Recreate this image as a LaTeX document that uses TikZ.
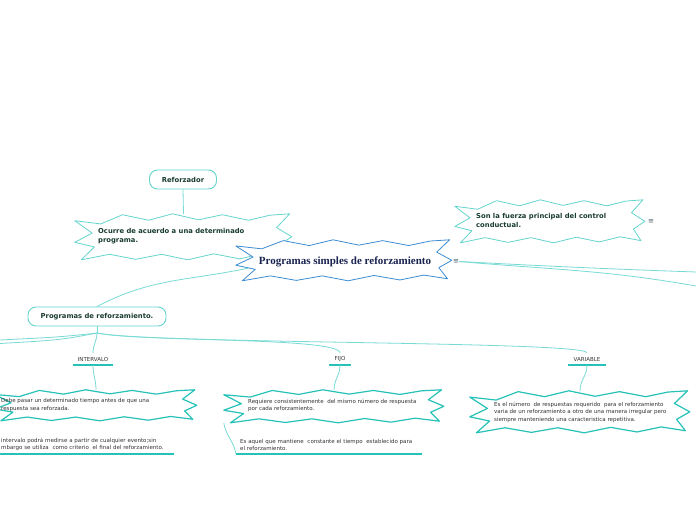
\documentclass[tikz,border=0pt]{standalone}
\usepackage{fontspec}
\setmainfont{DejaVu Sans}
\newfontfamily\tms{Liberation Serif}
\usetikzlibrary{calc}
\definecolor{tealL}{RGB}{100,212,206}
\definecolor{tealS}{RGB}{38,194,184}
\definecolor{connC}{RGB}{120,218,212}
\definecolor{blueS}{RGB}{60,140,210}
\definecolor{darkG}{RGB}{25,60,50}
\definecolor{navyT}{RGB}{25,35,80}
\definecolor{grayT}{RGB}{50,50,50}
\definecolor{menuC}{RGB}{70,90,100}
\newcommand\spiky[4]{%
 \begin{scope}[shift={(#1.north west)},xscale=#2,yscale=#3]
 \draw[#4] (0.0,0.15) -- (0.12,0.22) -- (0.22,0.02) -- (0.34,0.14) -- (0.45,0.0)
  -- (0.57,0.13) -- (0.68,0.02) -- (0.80,0.14) -- (0.90,0.03) -- (0.99,0.0)
  -- (0.93,0.30) -- (1.0,0.50) -- (0.94,0.68) -- (0.98,0.95) -- (0.87,0.86)
  -- (0.76,0.98) -- (0.64,0.87) -- (0.52,1.0) -- (0.40,0.88) -- (0.28,0.99)
  -- (0.16,0.88) -- (0.03,1.0) -- (0.09,0.72) -- (0.0,0.62) -- (0.08,0.42) -- cycle;
 \end{scope}}
\begin{document}
\begin{tikzpicture}[x=1pt,y=-1pt,
 conn/.style={draw=connC, line width=0.8pt},
 rbox/.style={draw=tealL, line width=0.9pt, rounded corners=8pt, fill=white, inner sep=0, font=\bfseries\fontsize{6.8}{8}\selectfont, text=darkG},
 sbox/.style={inner sep=0, draw=none},
 starL/.style={draw=tealL, line width=0.8pt, fill=white, line join=round},
 starS/.style={draw=tealS, line width=1.2pt, fill=white, line join=round},
 starB/.style={draw=blueS, line width=0.8pt, fill=white, line join=round},
 btxt/.style={font=\bfseries\fontsize{6.8}{9}\selectfont, text=darkG, align=left, inner sep=0, anchor=west},
 stxt/.style={font=\fontsize{5.5}{7.5}\selectfont, text=grayT, align=left, inner sep=0, anchor=west},
 lbl/.style={font=\fontsize{5.5}{6}\selectfont, text=grayT, minimum height=12pt, inner xsep=5pt, inner ysep=0},
 uline/.style={draw=tealS, line width=1.6pt},
 menu/.style={font=\fontsize{7}{8}\selectfont, text=menuC, inner sep=0}]
\useasboundingbox (0,0) rectangle (696,520);
% invisible boxes for the spiky shapes
\node[sbox, minimum width=217pt, minimum height=46pt] (ocurre) at (183.5,237) {};
\node[sbox, minimum width=216pt, minimum height=41pt] (main) at (344,260.5) {};
\node[sbox, minimum width=190pt, minimum height=43pt] (son) at (550,221.5) {};
\node[sbox, minimum width=202pt, minimum height=31pt] (sInt) at (96,405.5) {};
\node[sbox, minimum width=220pt, minimum height=33pt] (sFijo) at (334,406.5) {};
\node[sbox, minimum width=220pt, minimum height=42pt] (sVar) at (580,412) {};
% rounded boxes
\node[rbox, minimum width=67pt, minimum height=19pt] (ref) at (183,179.5) {Reforzador};
\node[rbox, minimum width=138pt, minimum height=19pt] (prog) at (97,316.5) {Programas de reforzamiento.};
% labels
\node[lbl] (intL) at (93,359) {INTERVALO};
\node[lbl] (fijoL) at (340,359) {FIJO};
\node[lbl] (varL) at (587,359) {VARIABLE};
\draw[uline] (intL.south west) -- (intL.south east);
\draw[uline] (fijoL.south west) -- (fijoL.south east);
\draw[uline] (varL.south west) -- (varL.south east);
% menu icons
\node[menu] (mainM) at (456,261.5) {≡};
\node[menu] (sonM) at (651,221.5) {≡};
% free ends
\coordinate (br) at (97,333);
\coordinate (L1) at (0,340);
\coordinate (L2) at (0,343.5);
\coordinate (R1) at (696,272);
\coordinate (R2) at (696,286);
\coordinate (mainL) at ($(main.south west)+(12,-13)$);
% child texts with underline
\node[stxt, anchor=south west, text width=172pt, inner xsep=1pt, inner ysep=3pt] (intC) at (0,454) {intervalo podrá medirse a partir de cualquier evento;sin\\mbargo se utiliza\ \ como criterio\ \ el final del reforzamiento.};
\node[stxt, anchor=south west, text width=178pt, inner xsep=4pt, inner ysep=3pt] (fijoC) at (236,454) {Es aquel que mantiene\ \ constante el tiempo\ \ establecido para\\el reforzamiento.};
\draw[uline] (intC.south west) -- (intC.south east);
\draw[uline] (fijoC.south west) -- (fijoC.south east);
% connectors
\draw[conn] (ref.south) -- (ocurre.north);
\draw[conn] (mainL) to[out=192,in=28] (prog.north);
\draw[conn] (mainM.east) to[out=-3,in=178] (R1);
\draw[conn] (mainM.east) to[out=-5,in=170] (R2);
\draw[conn] (prog.south) -- (br);
\draw[conn] (br) .. controls (60,337) .. (L1);
\draw[conn] (br) .. controls (60,340) .. (L2);
\draw[conn] (br) .. controls (97,341) and (93,344) .. (intL.north);
\draw[conn] (br) .. controls (140,342) and (338,337) .. (fijoL.north);
\draw[conn] (br) .. controls (150,344) and (585,341) .. (varL.north);
\draw[conn] (intL.south) to[out=-90,in=90] (sInt.north);
\draw[conn] (fijoL.south) to[out=-90,in=90] (sFijo.north);
\draw[conn] (varL.south) to[out=-90,in=90] (sVar.north);
\draw[conn] (sFijo.south west) to[out=-80,in=100] (fijoC.south west);
\draw[conn] (sInt.south west) to[out=-80,in=100] (intC.south west);
% spiky shapes
\spiky{son}{190}{43}{starL}
\spiky{ocurre}{217}{46}{starL}
\spiky{main}{216}{41}{starB}
\spiky{sInt}{202}{31}{starS}
\spiky{sFijo}{220}{33}{starS}
\spiky{sVar}{220}{42}{starS}
% texts
\node[btxt] (ocurreT) at (98,236.5) {Ocurre de acuerdo a una determinado\\programa.};
\node[btxt] (sonT) at (476,220.5) {Son la fuerza principal del control\\conductual.};
\node[font=\tms\bfseries\fontsize{11}{13}\selectfont, text=navyT, inner sep=0] (mainT) at (345,261.5) {Programas simples de reforzamiento};
\node[stxt] (intT) at (1,405) {Debe pasar un determinado tiempo antes de que una\\respuesta sea reforzada.};
\node[stxt] (fijoT) at (248,405.5) {Requiere consistentemente\ \ del mismo número de respuesta\\por cada reforzamiento.};
\node[stxt] (varT) at (494,412) {Es el número\ \ de respuestas requerido\ \ para el reforzamiento\\varia de un reforzamiento a otro de una manera irregular pero\\siempre manteniendo una caracteristica repetitiva.};
\end{tikzpicture}
\end{document}
